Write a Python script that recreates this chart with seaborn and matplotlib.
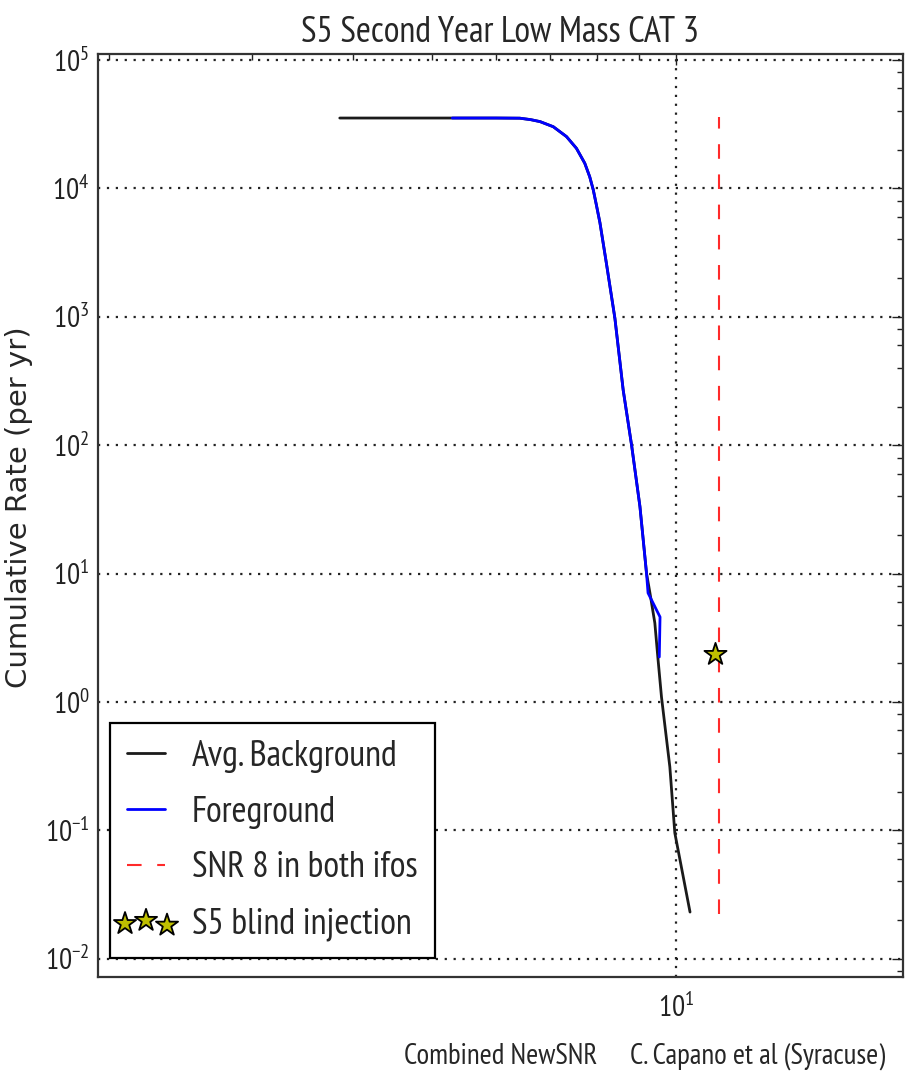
import matplotlib
matplotlib.use("Agg")
import matplotlib.pyplot as plt
from matplotlib import font_manager as fm
from matplotlib.textpath import TextToPath
from matplotlib.ticker import LogLocator, NullFormatter
from matplotlib.collections import PathCollection
from matplotlib.legend_handler import HandlerPathCollection
import seaborn as sns
import pandas as pd

# ---- data ----
bg_x = [3.85, 5.3, 6.0, 6.42, 6.62, 6.80, 7.06, 7.33, 7.54, 7.72, 7.83, 7.91, 7.98, 8.06,
        8.21, 8.41, 8.61, 8.82, 9.03, 9.20, 9.29, 9.42, 9.50, 9.60, 9.83, 9.97, 10.41]
bg_y = [3.53e4, 3.53e4, 3.53e4, 3.52e4, 3.43e4, 3.31e4, 3.02e4, 2.53e4, 2.05e4, 1.57e4,
        1.23e4, 9.7e3, 7.4e3, 5.4e3, 2.6e3, 973, 269, 99, 33.2, 10.05, 7.06, 4.12, 2.24,
        1.09, 0.312, 0.0955, 0.0231]

fg_x = [5.3, 6.0, 6.42, 6.62, 6.80, 7.06, 7.33, 7.54, 7.72, 7.83, 7.91, 7.98, 8.06,
        8.21, 8.41, 8.61, 8.82, 9.03, 9.20, 9.24, 9.56, 9.54]
fg_y = [3.53e4, 3.53e4, 3.52e4, 3.43e4, 3.31e4, 3.02e4, 2.53e4, 2.05e4, 1.57e4,
        1.23e4, 9.7e3, 7.4e3, 5.4e3, 2.6e3, 973, 269, 99, 33.2, 10.05, 7.06, 4.59, 2.24]

snr_x = [11.31, 11.31]
snr_y = [0.0224, 3.62e4]

inj_x = [11.17]
inj_y = [2.37]

labels = ["Avg. Background", "Foreground", "SNR 8 in both ifos", "S5 blind injection"]
title = "S5 Second Year Low Mass CAT 3"
xlabel = "Combined NewSNR"
ylabel = "Cumulative Rate (per yr)"
credit = "C. Capano et al (Syracuse)"


# ---- pick the narrowest-looking regular sans font available ----
def choose_font():
    ttp = TextToPath()
    target = 5.95  # em-width of "S5 blind injection" in the reference
    best = None
    for f in fm.fontManager.ttflist:
        n = f.name
        if f.style != "normal":
            continue
        w = f.weight
        if isinstance(w, str):
            if w.lower() not in ("normal", "regular", "book"):
                continue
        elif w != 400:
            continue
        if any(b in n for b in ("Mono", "CJK", "Math", "Serif", "Symbol", "STIX", "cm")):
            continue
        if not any(k in n for k in ("Sans", "Roboto", "Lato", "Inter")):
            continue
        try:
            prop = fm.FontProperties(fname=f.fname, size=10)
            tw, th, td = ttp.get_text_width_height_descent("S5 blind injection", prop, ismath=False)
        except Exception:
            continue
        score = abs(tw / 10 - target)
        if best is None or score < best[0]:
            best = (score, f)
    return best[1] if best else None


sns.set_style("white")
chosen = choose_font()
if chosen is not None:
    plt.rcParams["font.family"] = [chosen.name, "DejaVu Sans"]
    plt.rcParams["font.stretch"] = chosen.stretch
else:
    plt.rcParams["font.family"] = ["DejaVu Sans"]
plt.rcParams["mathtext.default"] = "regular"
plt.rcParams["xtick.direction"] = "in"
plt.rcParams["ytick.direction"] = "in"

DPI = 100
fig = plt.figure(figsize=(9.05, 10.78), dpi=DPI, facecolor="white")
ax = fig.add_axes([97.7 / 905, 1 - 977 / 1078, (903 - 97.7) / 905, (977 - 54.3) / 1078])
ax.set_xscale("log")
ax.set_yscale("log")

bg = pd.DataFrame({"x": bg_x, "y": bg_y})
fg = pd.DataFrame({"x": fg_x, "y": fg_y})
sn = pd.DataFrame({"x": snr_x, "y": snr_y})
inj = pd.DataFrame({"x": inj_x, "y": inj_y})

sns.lineplot(data=bg, x="x", y="y", ax=ax, sort=False, estimator=None,
             color="#1a1a1a", linewidth=2.0, label=labels[0])
sns.lineplot(data=fg, x="x", y="y", ax=ax, sort=False, estimator=None,
             color="#0000ff", linewidth=2.0, label=labels[1])
sns.lineplot(data=sn, x="x", y="y", ax=ax, sort=False, estimator=None,
             color="#ff2a2a", linewidth=1.5, linestyle=(0, (7, 7.5)), label=labels[2])
sns.scatterplot(data=inj, x="x", y="y", ax=ax, marker="*", s=280,
                color="#bfbf00", edgecolor="black", linewidth=1.3, zorder=5,
                label=labels[3])

ax.set_xlim(1.936, 19.06)
ax.set_ylim(0.00721, 1.107e5)

ax.xaxis.set_major_locator(LogLocator(base=10))
ax.xaxis.set_minor_locator(LogLocator(base=10, subs=range(2, 10)))
ax.xaxis.set_minor_formatter(NullFormatter())
ax.yaxis.set_major_locator(LogLocator(base=10, numticks=20))
ax.yaxis.set_minor_locator(LogLocator(base=10, subs=[2, 4, 6, 8], numticks=20))
ax.yaxis.set_minor_formatter(NullFormatter())

ax.grid(True, which="major", color="#222222", linestyle=(0, (1, 3)), linewidth=1.6)
for sp in ax.spines.values():
    sp.set_visible(True)
    sp.set_color("#333333")
    sp.set_linewidth(1.6)

renderer = fig.canvas.get_renderer()


def text_w(s, size, **kw):
    t = fig.text(0, 0, s, fontsize=size, **kw)
    w = t.get_window_extent(renderer=renderer).width
    t.remove()
    return w


def fit_size(s, target_w, max_size, **kw):
    w = text_w(s, max_size, **kw)
    return max_size if w <= target_w else max_size * target_w / w


# tick labels
tick_fs = fit_size(r"$\mathdefault{10^{5}}$", 37, 21)
ax.tick_params(which="both", direction="in", top=True, right=True, colors="#222222")
ax.tick_params(which="major", length=8, width=1.0, labelsize=tick_fs, pad=6)
ax.tick_params(axis="x", which="major", pad=12)
ax.tick_params(which="minor", length=4, width=1.0)

# title / labels
title_fs = fit_size(title, 408, 26)
ax.set_title(title, fontsize=title_fs, pad=9)
lab_fs = min(fit_size(xlabel, 205, 23), fit_size(credit, 254, 23))
ax.set_xlabel(xlabel, fontsize=lab_fs)
ax.xaxis.set_label_coords(0.5, (977 - 1043) / 922.7)
fig.text(758 / 905, 1 - 1043 / 1078, credit, fontsize=lab_fs, ha="center", va="top")
ax.set_ylabel(ylabel, fontsize=21, family=["DejaVu Sans"], fontstretch="normal")
ax.yaxis.set_label_coords((33 - 97.7) / 805.3, (977 - 507.5) / 922.7)

# legend
leg_fs = min(fit_size(labels[0], 215, 28), fit_size(labels[2], 227, 28),
             fit_size(labels[3], 219, 28))
fs_px = leg_fs * DPI / 72.0


def make_legend(ls):
    lg = ax.legend(loc="lower left", bbox_to_anchor=(0.0153, 0.0206), borderaxespad=0,
                   fontsize=leg_fs, handlelength=38 / fs_px, handletextpad=27 / fs_px,
                   borderpad=17 / fs_px, labelspacing=ls, scatterpoints=3,
                   fancybox=False, framealpha=1, edgecolor="black",
                   handler_map={PathCollection: HandlerPathCollection(marker_pad=-2 / fs_px)})
    lg.get_frame().set_linewidth(1.6)
    return lg


ls = 0.5
leg = make_legend(ls)
fig.canvas.draw()
ys = [t.get_window_extent(renderer=renderer).y0 for t in leg.get_texts()]
pitch = (ys[0] - ys[-1]) / 3.0
ls = max(0.1, ls + (56 - pitch) / fs_px)
leg.remove()
leg = make_legend(ls)

fig.savefig("out.png", dpi=DPI, facecolor="white")
